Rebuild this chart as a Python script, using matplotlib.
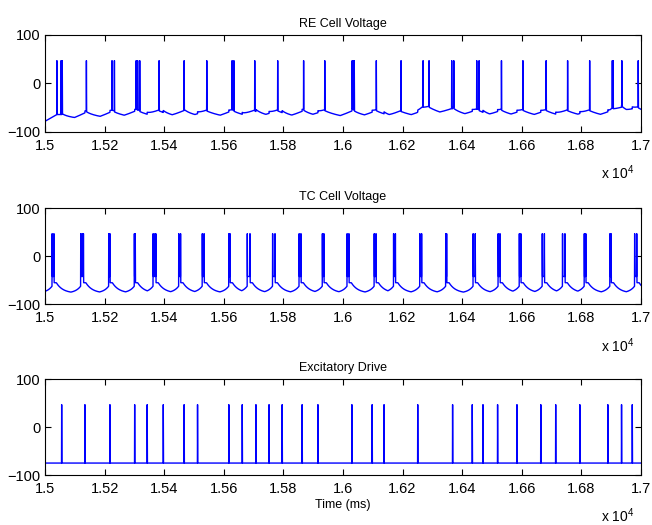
import numpy as np
import matplotlib
matplotlib.use("Agg")
import matplotlib.pyplot as plt
from matplotlib.ticker import FuncFormatter

plt.rcParams['font.family'] = ['Liberation Sans', 'DejaVu Sans']
plt.rcParams['mathtext.default'] = 'regular'

# ---- data (ms) ----
re_spikes = [15040, 15054, 15058, 15139, 15225, 15233, 15306, 15311, 15318,
             15383, 15467, 15543, 15628, 15634, 15704, 15781, 15868, 15939,
             16031, 16035, 16038, 16112, 16195, 16269, 16289, 16365, 16372,
             16449, 16457, 16532, 16604, 16682, 16754, 16828, 16904, 16907,
             16936, 16991]
tc_spikes = [15024, 15030, 15120, 15125, 15129, 15214, 15218, 15300, 15303,
             15363, 15369, 15372, 15449, 15455, 15528, 15534, 15617, 15621,
             15679, 15688, 15764, 15772, 15853, 15859, 15931, 15936, 16014,
             16020, 16105, 16111, 16170, 16176, 16258, 16264, 16345, 16348,
             16437, 16444, 16521, 16527, 16592, 16597, 16669, 16676, 16737,
             16745, 16810, 16815, 16896, 16900, 16979, 16986]
exc_spikes = [15056, 15134, 15218, 15301, 15343, 15397, 15467, 15512, 15617,
              15662, 15708, 15752, 15796, 15863, 15916, 16030, 16098, 16138,
              16251, 16368, 16434, 16470, 16519, 16584, 16664, 16714, 16795,
              16889, 16935, 16971]

re_rest, tc_rest, exc_rest = -78.0, -77.0, -75.0
spike_peak = 47.0

t_start, t_end = 15000, 17000
titles = ["RE Cell Voltage", "TC Cell Voltage", "Excitatory Drive"]
xticks = np.arange(15000, 17001, 200)
yticks = [-100, 0, 100]

t = np.arange(t_start, t_end + 0.05, 0.1)


def groups(spk, gap=15):
    out = [[spk[0]]]
    for s in spk[1:]:
        if s - out[-1][-1] < gap:
            out[-1].append(s)
        else:
            out.append([s])
    return out


def add_spikes(v, spk):
    for s in spk:
        p = np.clip(1 - np.abs(t - s) / 0.5, 0, 1)
        v = v + p * (spike_peak - v)
    return v


# RE trace
v_re = np.full_like(t, re_rest)
for g in groups(re_spikes):
    t0, t1 = g[0], g[-1]
    pre = np.where((t >= t0 - 40) & (t < t0), (t - (t0 - 40)) / 40 * 14, 0)
    post = np.where(t >= t1, 12 * np.exp(-(t - t1) / 90), 0)
    mid = np.where((t >= t0) & (t <= t1), 14, 0)
    v_re = v_re + np.maximum(np.maximum(pre, post), mid)
for e in exc_spikes:
    v_re = v_re + np.where(t >= e, 4 * np.exp(-(t - e) / 15), 0)
v_re = add_spikes(v_re, re_spikes)

# TC trace
v_tc = np.full_like(t, tc_rest)
for g in groups(tc_spikes):
    t0, t1 = g[0], g[-1]
    pre = np.where(t < t0, 15 * np.exp((t - t0) / 18), 0)
    post = np.where(t >= t1, 22 * np.exp(-np.clip(t - t1 - 8, 0, None) / 22), 0)
    mid = np.where((t >= t0) & (t <= t1), 35, 0)
    v_tc = np.maximum(v_tc, tc_rest + np.maximum(np.maximum(pre, post), mid))
v_tc = add_spikes(v_tc, tc_spikes)

# Excitatory drive
v_exc = np.full_like(t, exc_rest)
v_exc = add_spikes(v_exc, exc_spikes)

traces = [v_re, v_tc, v_exc]

fig = plt.figure(figsize=(6.52, 5.25), dpi=100)
positions = [(0.069, 0.7486, 0.914, 0.1848),
             (0.069, 0.4204, 0.914, 0.1829),
             (0.069, 0.0952, 0.914, 0.1823)]

for i, (pos, tr, title) in enumerate(zip(positions, traces, titles)):
    ax = fig.add_axes(pos)
    ax.plot(t, tr, color=(0, 0, 1), lw=1.0)
    ax.set_xlim(t_start, t_end)
    ax.set_ylim(-100, 100)
    ax.set_xticks(xticks)
    ax.set_yticks(yticks)
    ax.xaxis.set_major_formatter(FuncFormatter(lambda v, p: f"{v/1e4:g}"))
    ax.tick_params(direction='in', top=True, right=True, length=4,
                   labelsize=10.5, width=0.8)
    ax.tick_params(axis='x', pad=5)
    ax.tick_params(axis='y', pad=3)
    for sp in ax.spines.values():
        sp.set_linewidth(0.8)
    ax.set_title(title, fontsize=9, pad=6)
    ax.annotate('x 10$^4$', xy=(1, 0), xycoords='axes fraction',
                xytext=(-6, -41), textcoords='offset pixels',
                ha='right', va='center', fontsize=10)
    if i == 2:
        ax.set_xlabel('Time (ms)', fontsize=9, labelpad=2)

fig.savefig('out.png', dpi=100)
